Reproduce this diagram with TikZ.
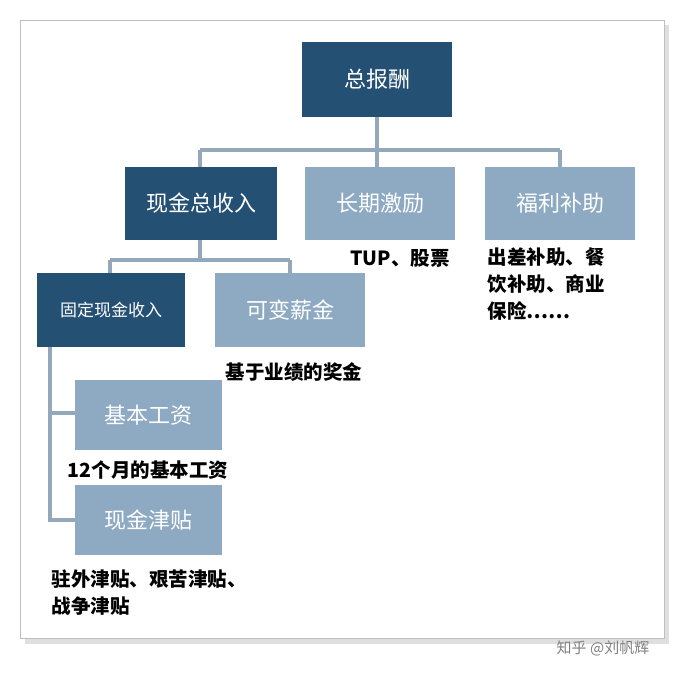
\documentclass[tikz,border=0pt]{standalone}
\usepackage{fontspec}
\setmainfont{Noto Sans CJK SC}
\begin{document}
\begin{tikzpicture}[x=1pt,y=-1pt,
  dk/.style={fill=dark,draw=none,text=white,font=\fontsize{22}{24}\selectfont},
  lt/.style={fill=light,draw=none,text=white,font=\fontsize{22}{24}\selectfont},
  ln/.style={draw=linec,line width=3.5pt},
  lab/.style={font=\bfseries\fontsize{19.5}{27}\selectfont,text=black}]
\definecolor{dark}{HTML}{245073}
\definecolor{light}{HTML}{8EAAC2}
\definecolor{linec}{HTML}{93A9BB}
\useasboundingbox (0,0) rectangle (683,676);
\fill[gray!25] (25,25) rectangle (669,644);
\fill[white,draw=gray!50] (20,20) rectangle (664,638);
\draw[ln] (200,150) -- (560,150);
\draw[ln] (377,117) -- (377,167);
\draw[ln] (200,150) -- (200,167);
\draw[ln] (560,150) -- (560,167);
\draw[ln] (110,260) -- (290,260);
\draw[ln] (200,240) -- (200,260);
\draw[ln] (110,260) -- (110,273);
\draw[ln] (290,260) -- (290,273);
\draw[ln] (50,347) -- (50,520) -- (75,520);
\draw[ln] (50,413) -- (75,413);
\path[dk] (302,42) rectangle node (a) {总报酬} (452,117);
\path[dk] (125,167) rectangle node (b) {现金总收入} (277,240);
\path[lt] (305,167) rectangle node (c) {长期激励} (455,240);
\path[lt] (485,167) rectangle node (d) {福利补助} (635,240);
\path[dk] (37,273) rectangle node[font=\fontsize{17}{20}\selectfont] (e) {固定现金收入} (185,347);
\path[lt] (215,273) rectangle node (f) {可变薪金} (365,347);
\path[lt] (75,380) rectangle node (g) {基本工资} (222,450);
\path[lt] (75,485) rectangle node (h) {现金津贴} (222,555);
\node[lab] (t1) at (400,258) {TUP、股票};
\node[lab,anchor=north west,align=left] (t2) at (484,244) {出差补助、餐\\饮补助、商业\\保险……};
\node[lab] (t3) at (294,372) {基于业绩的奖金};
\node[lab] (t4) at (148,470) {12个月的基本工资};
\node[lab,anchor=north west,align=left] (t5) at (48,566) {驻外津贴、艰苦津贴、\\战争津贴};
\node[font=\fontsize{15}{16}\selectfont,text=gray] (w) at (603,648) {知乎 @刘帆辉};
\end{tikzpicture}
\end{document}
